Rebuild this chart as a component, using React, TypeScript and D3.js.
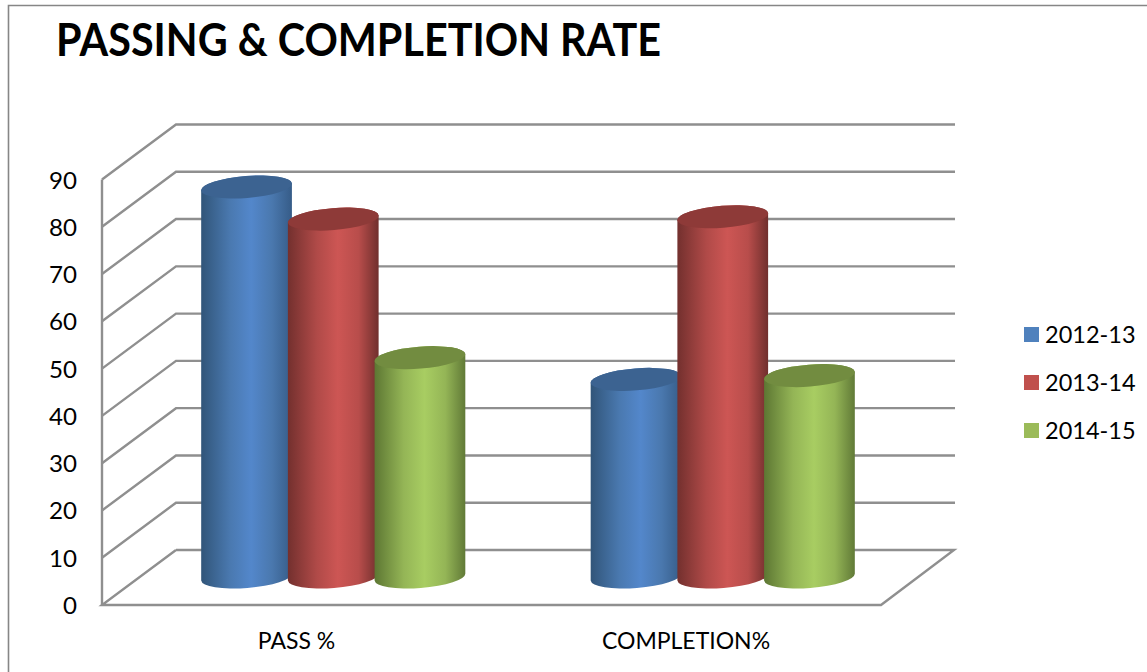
import React from "react";
import * as d3 from "d3";

const title = "PASSING & COMPLETION RATE";
const categories = ["PASS %", "COMPLETION%"];
const seriesNames = ["2012-13", "2013-14", "2014-15"];
const values2012 = [82.5, 41.8];
const values2013 = [75.7, 76.2];
const values2014 = [46.4, 42.6];
const seriesValues = [values2012, values2013, values2014];
const tickValues = [0, 10, 20, 30, 40, 50, 60, 70, 80, 90];

const legendColors = ["#4f81bd", "#c0504d", "#9bbb59"];
const topColors = ["#3c6391", "#8e3a38", "#728c40"];
const stops = [
  ["#315579", "#4a79b0", "#5387cb", "#4a78ae", "#365c88"],
  ["#73302e", "#b04a48", "#cd5654", "#b84d4b", "#702f2d"],
  ["#5d7733", "#94b556", "#a8cd62", "#94b556", "#617a37"],
];

const W = 1147;
const H = 672;
const font = "Lato, Carlito, 'Open Sans', sans-serif";
const depthX = 74;
const depthY = 55;
const frontLeft = 102;
const frontRight = 881;
const grid = "#8f8f8f";

const y = d3.scaleLinear().domain([0, 90]).range([605, 179.5]);
const xOuter = d3.scaleBand<string>().domain(categories).range([frontLeft, frontRight]);
const rx = 45.5;
const ry = 11;
const tilt = -4.5;

function cylinder(cx: number, topY: number, baseY: number) {
  const t = (tilt * Math.PI) / 180;
  const dx = rx * Math.cos(t);
  const dy = rx * Math.sin(t);
  const arc = `A${rx} ${ry} ${tilt}`;
  return {
    body: `M${cx - dx} ${topY - dy} ${arc} 0 1 ${cx + dx} ${topY + dy} L${cx + dx} ${baseY + dy} ${arc} 0 1 ${cx - dx} ${baseY - dy}Z`,
    top: { cx, cy: topY },
  };
}

export default function App() {
  const floorCy = y(0) - depthY / 2 - 0.5;
  const unit = y(0) - y(1);
  const groupCenters = categories.map((c) => (xOuter(c) as number) + xOuter.bandwidth() / 2);
  return (
    <svg
      width={W}
      height={H}
      viewBox={`0 0 ${W} ${H}`}
      style={{ position: "absolute", left: 0, top: 0, display: "block", background: "#fff", fontFamily: font }}
    >
      <defs>
        {stops.map((s, i) => (
          <linearGradient key={i} id={`cyl${i}`} x1="0" x2="1" y1="0" y2="0">
            {s.map((c, j) => (
              <stop key={j} offset={[0, 0.32, 0.55, 0.78, 1][j]} stopColor={c} />
            ))}
          </linearGradient>
        ))}
      </defs>

      <path d={`M8.5 672V5.5H1147`} fill="none" stroke="#868686" strokeWidth={1.6} />

      <text x={56} y={56} fontSize={46} fontWeight={700} fill="#000" textLength={605} lengthAdjust="spacingAndGlyphs">
        {title}
      </text>

      <g fill="none" stroke={grid} strokeWidth={2.4}>
        <line x1={frontLeft} x2={frontLeft} y1={y(90)} y2={y(0) + 1} />
        {tickValues.map((t) =>
          t === 0 ? (
            <path
              key={t}
              d={`M${frontLeft + depthX} ${y(0) - depthY}H${frontRight + depthX - 1}L${frontRight} ${y(0)}H${frontLeft}L${frontLeft + depthX} ${y(0) - depthY}`}
            />
          ) : (
            <path
              key={t}
              d={`M${frontLeft} ${y(t)}L${frontLeft + depthX} ${y(t) - depthY}H${frontRight + depthX}`}
            />
          )
        )}
      </g>

      {tickValues.map((t) => (
        <text key={t} x={77} y={y(t) + 9} fontSize={23.5} textAnchor="end" fill="#000" textLength={t === 0 ? 14 : 28} lengthAdjust="spacingAndGlyphs">
          {t}
        </text>
      ))}

      {categories.map((c, ci) =>
        seriesNames.map((_, si) => {
          const cx = groupCenters[ci] + 36.5 + (si - 1) * 86.7;
          const baseY = floorCy;
          const topY = baseY - seriesValues[si][ci] * unit;
          const g = cylinder(cx, topY, baseY);
          return (
            <g key={`${c}-${si}`}>
              <path d={g.body} fill={`url(#cyl${si})`} />
              <ellipse
                cx={g.top.cx}
                cy={g.top.cy}
                rx={rx}
                ry={ry}
                fill={topColors[si]}
                transform={`rotate(${tilt} ${g.top.cx} ${g.top.cy})`}
              />
            </g>
          );
        })
      )}

      {categories.map((c, i) => (
        <text key={c} x={i === 0 ? 296.5 : 686} y={649} fontSize={23} textAnchor="middle" fill="#000">
          {c}
        </text>
      ))}

      {seriesNames.map((s, i) => (
        <g key={s}>
          <rect x={1024} y={327 + i * 48} width={15} height={15} fill={legendColors[i]} />
          <text x={1045} y={342.5 + i * 48} fontSize={23.5} fill="#000">
            {s}
          </text>
        </g>
      ))}
    </svg>
  );
}
